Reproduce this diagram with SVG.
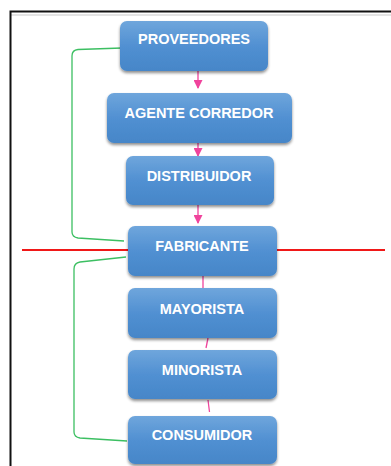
<svg xmlns="http://www.w3.org/2000/svg" width="391" height="466" viewBox="0 0 391 466">
<style>
.box{fill:url(#g);filter:url(#sh);}
.t{font-family:"Liberation Sans",Arial,sans-serif;font-weight:bold;font-size:14.5px;fill:#fff;text-anchor:middle;}
.pk{stroke:#f0439c;stroke-width:1.3;fill:none;}
.gr{stroke:#3cbf62;stroke-width:1.3;fill:none;}
</style>
<defs>
<linearGradient id="g" x1="0" y1="0" x2="0" y2="1">
<stop offset="0" stop-color="#6fa6dc"/>
<stop offset="0.5" stop-color="#5190d2"/>
<stop offset="1" stop-color="#4686c8"/>
</linearGradient>
<filter id="sh" x="-10%" y="-10%" width="120%" height="130%">
<feGaussianBlur in="SourceAlpha" stdDeviation="1.5"/>
<feOffset dx="0" dy="2"/>
<feComponentTransfer><feFuncA type="linear" slope="0.45"/></feComponentTransfer>
<feMerge><feMergeNode/><feMergeNode in="SourceGraphic"/></feMerge>
</filter>
<marker id="ah" markerWidth="9" markerHeight="9" refX="8" refY="4.5" orient="auto" markerUnits="userSpaceOnUse">
<path d="M0,0 L9,4.5 L0,9 Z" fill="#f0439c"/>
</marker>
</defs>
<rect width="391" height="466" fill="#fff"/>
<g id="frame">
<rect x="10.5" y="14" width="381" height="2" fill="#e4e4e4"/>
<path d="M10.5,466 V11.5 H391" stroke="#111" stroke-width="2" fill="none"/>
</g>
<g id="connectors">
<line x1="22" y1="250" x2="128" y2="250" stroke="#f01818" stroke-width="2"/>
<line x1="277" y1="250" x2="385" y2="250" stroke="#f01818" stroke-width="2"/>
<path class="gr" d="M122,48 L78,49.5 Q72,50 72,56 L72,232 Q72,237 78,238 L124,241"/>
<path class="gr" d="M126,257 L80,262 Q74,263 74,269 L74,432 Q74,437 80,438 L127,441"/>
<line class="pk" x1="198" y1="71" x2="198" y2="88" marker-end="url(#ah)"/>
<line class="pk" x1="198" y1="143" x2="198" y2="156" marker-end="url(#ah)"/>
<line class="pk" x1="198" y1="205" x2="198" y2="223" marker-end="url(#ah)"/>
<line class="pk" x1="203" y1="276" x2="203" y2="288"/>
<line class="pk" x1="208" y1="338" x2="206" y2="348"/>
<line class="pk" x1="208" y1="400" x2="209.5" y2="412"/>
</g>
<g id="n1"><rect class="box" x="120" y="21" width="148" height="50" rx="7"/><text class="t" x="194" y="44">PROVEEDORES</text></g>
<g id="n2"><rect class="box" x="107" y="93" width="185" height="50" rx="7"/><text class="t" x="199" y="118">AGENTE CORREDOR</text></g>
<g id="n3"><rect class="box" x="126" y="156" width="148" height="49" rx="7"/><text class="t" x="199" y="181">DISTRIBUIDOR</text></g>
<g id="n4"><rect class="box" x="128" y="226" width="149" height="50" rx="7"/><text class="t" x="202" y="251">FABRICANTE</text></g>
<g id="n5"><rect class="box" x="128" y="288" width="149" height="50" rx="7"/><text class="t" x="202" y="314">MAYORISTA</text></g>
<g id="n6"><rect class="box" x="128" y="350" width="149" height="49" rx="7"/><text class="t" x="202" y="375">MINORISTA</text></g>
<g id="n7"><rect class="box" x="128" y="416" width="149" height="48" rx="7"/><text class="t" x="202" y="440">CONSUMIDOR</text></g>
</svg>
